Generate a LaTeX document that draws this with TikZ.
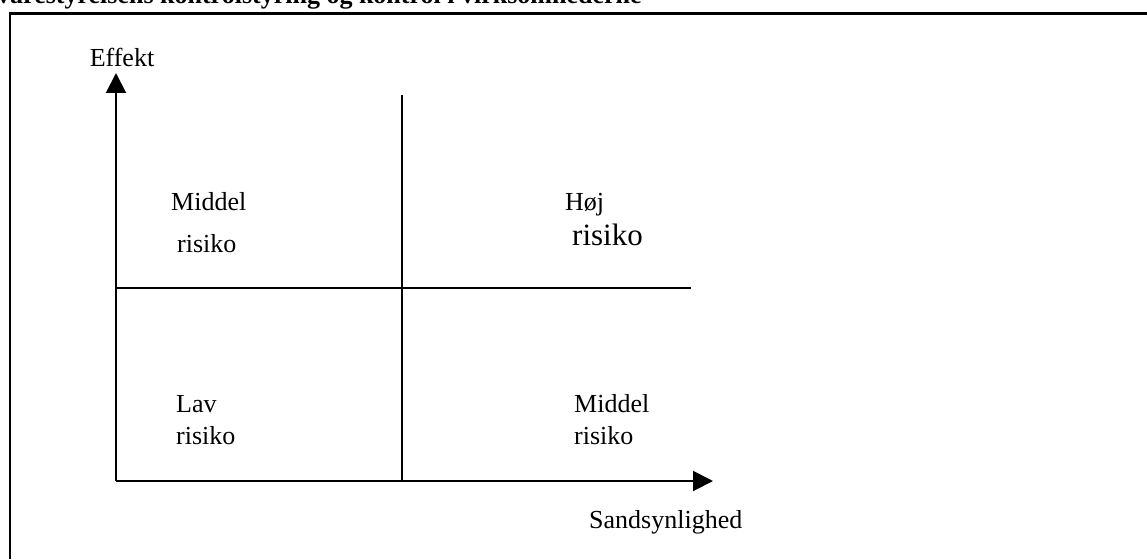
\documentclass[tikz,border=0pt]{standalone}
\usepackage{fontspec}
\setmainfont{Liberation Serif}
\usetikzlibrary{arrows.meta}
\begin{document}
\begin{tikzpicture}[x=1pt,y=-1pt,
  lbl/.style={anchor=base west, inner sep=0pt, font=\fontsize{26}{30}\selectfont},
  biglbl/.style={anchor=base west, inner sep=0pt, font=\fontsize{31}{36}\selectfont},
  axislbl/.style={inner sep=0pt, font=\fontsize{26}{30}\selectfont},
  axisline/.style={line width=2pt, -{Triangle[length=20pt,width=20pt]}},
  divider/.style={line width=2pt},
  framestyle/.style={line width=2.5pt}]
\useasboundingbox (0,0) rectangle (1147,559);
\clip (0,0) rectangle (1147,559);
\node[anchor=base west, inner sep=0pt, font=\bfseries\fontsize{26}{30}\selectfont] (title) at (-3,4) {varestyrelsens kontrolstyring og kontrol i virksomhederne};
\coordinate (fbl) at (10,559);
\coordinate (ftl) at (10,13.5);
\coordinate (ftr) at (1147,13.5);
\draw[framestyle] (fbl) -- (ftl) -- (ftr);
\coordinate (O) at (116,481);
\coordinate (ytip) at (116,73);
\coordinate (xtip) at (713,481);
\coordinate (vtop) at (402,95);
\coordinate (vbot) at (402,481);
\coordinate (hleft) at (116,288);
\coordinate (hright) at (691,288);
\draw[axisline] (O) -- (ytip);
\draw[axisline] (O) -- (xtip);
\draw[divider] (vtop) -- (vbot);
\draw[divider] (hleft) -- (hright);
\node[axislbl, anchor=base] (effekt) at (122,67) {Effekt};
\node[lbl] (m1) at (171,210) {Middel};
\node[lbl] (r1) at (177,252) {risiko};
\node[lbl] (hoj) at (565,210) {Høj};
\node[biglbl] (r2) at (572,245) {risiko};
\node[lbl] (lav) at (176,412) {Lav};
\node[lbl] (r3) at (176,444) {risiko};
\node[lbl] (m2) at (574,412) {Middel};
\node[lbl] (r4) at (574,444) {risiko};
\node[axislbl, anchor=base west] (sand) at (589,528) {Sandsynlighed};
\end{tikzpicture}
\end{document}
